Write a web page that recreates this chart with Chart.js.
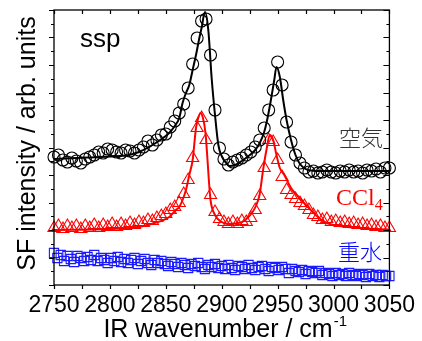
<!DOCTYPE html>
<html><head><meta charset="utf-8">
<script src="https://cdn.jsdelivr.net/npm/chart.js@4/dist/chart.umd.min.js"></script>
<style>html,body{margin:0;padding:0;background:#fff}#wrap{width:422px;height:341px;position:relative}</style>
</head><body>
<div id="wrap"><canvas id="c"></canvas></div>
<script>
// ---- data (arb. units on y) ----
const wnA = [2750,2754,2758,2762,2766,2770,2774,2778,2782,2786,2790,2794,2798,2802,2806,2810,2814,2818,2822,2826,2830,2834,2838,2842,2846,2850,2854,2858,2862,2866,2870,2874,2878,2882,2886,2890,2894,2898,2902,2906,2910,2914,2918,2922,2926,2930,2934,2938,2942,2946,2950,2954,2958,2962,2966,2970,2974,2978,2982,2986,2990,2994,2998,3002,3006,3010,3014,3018,3022,3026,3030,3034,3038,3042,3046,3050];
const airSF = [128,130,125,123,127,124,122,126,128,130,133,132,136,135,133,132,135,134,132,135,138,144,140,145,150,151,158,164,172,181,197,221,247,264,266,230,175,137,126,120,123,125,127,130,133,138,145,157,175,195,223,200,163,143,130,122,117,113,114,112,113,115,113,112,114,113,115,113,114,112,115,114,116,113,117,117];
const ccl4SF = [57,59,56,59,57,59,56,59,57,60,57,60,58,61,58,61,59,62,60,63,62,65,64,67,69,71,75,78,82,91,105,127,157,167,145,90,73,66,63,61,63,61,64,63,67,75,89,117,145,143,125,108,95,90,86,82,79,75,70,68,65,66,63,64,62,63,61,62,60,61,59,60,58,59,57,57];
const wnB = [2750,2753,2756,2759,2762,2765,2768,2771,2774,2777,2780,2783,2786,2789,2792,2795,2798,2801,2804,2807,2810,2813,2816,2819,2822,2825,2828,2831,2834,2837,2840,2843,2846,2849,2852,2855,2858,2861,2864,2867,2870,2873,2876,2879,2882,2885,2888,2891,2894,2897,2900,2903,2906,2909,2912,2915,2918,2921,2924,2927,2930,2933,2936,2939,2942,2945,2948,2951,2954,2957,2960,2963,2966,2969,2972,2975,2978,2981,2984,2987,2990,2993,2996,2999,3002,3005,3008,3011,3014,3017,3020,3023,3026,3029,3032,3035,3038,3041,3044,3047,3050];
const d2oSF = [32,27,30,24,29,26,23,29,27,24,28,25,30,24,27,25,22,27,24,28,23,26,22,25,27,21,24,26,22,20,25,22,24,21,19,23,21,18,22,20,17,21,19,22,18,16,20,18,21,17,19,16,20,17,15,19,18,16,20,17,15,18,19,16,14,18,17,15,18,16,12,16,14,13,15,11,14,13,12,14,10,12,11,9,12,10,11,9,12,10,9,11,10,8,11,9,10,8,10,9,9];
const airFitWn = [2750,2780,2800,2817,2826,2835,2845,2853,2858,2862,2865,2868,2871,2874,2877,2880,2882,2885,2888,2891,2894,2897,2900,2904,2907,2912,2918,2924,2930,2934,2938,2941,2944,2947,2949,2952,2955,2958,2962,2966,2970,2975,2980,2990,3050];
const airFit = [126,127.5,128.5,130,133,138,145,152,159,167,182,192,200,215,230,247,257,273,255,207,170,140,129,122,119,120,124,129,135,142,153,167,185,205,218,208,185,165,145,130,121,116,114.5,114,114];
const ccl4FitWn = [2750,2800,2826,2840,2853,2859,2862,2865,2868,2871,2874,2877,2879,2881,2883,2885.5,2887,2888.5,2890,2894,2900,2906,2912,2920,2927,2931,2934,2937,2940,2943,2946,2949,2952,2956,2962,2968,2977,2985,2992,3000,3013,3030,3050];
const ccl4Fit = [55,56,58,62,68,75,78,85,95,110,125,157,167,172,168,152,130,105,85,70,63,61,61.5,64,72,80,91,115,135,150,145,130,117,110,97,89,78,69,63,60,58,56.5,55.5];
const xLabels = [2750,2800,2850,2900,2950,3000,3050];
const xMinorTicks = [2750,2775,2800,2825,2850,2875,2900,2925,2950,2975,3000,3025,3050];
const xTitle = 'IR wavenumber / cm';
const xTitleSup = '-1';
const yTitle = 'SF intensity / arb. units';
const polLabel = 'ssp';
const seriesNames = ['空気', 'CCl', '重水'];

const pts = (xs, ys) => xs.map((x, i) => ({x, y: ys[i]}));

const decor = {
  id: 'decor',
  afterDatasetsDraw(chart) {
    const ctx = chart.ctx, a = chart.chartArea;
    const xs = chart.scales.x, ys = chart.scales.y;
    ctx.save();
    ctx.strokeStyle = '#000';
    ctx.lineWidth = 1.3;
    ctx.strokeRect(a.left, a.top, a.right - a.left, a.bottom - a.top);
    ctx.lineWidth = 1.2;
    ctx.beginPath();
    xMinorTicks.forEach(v => {
      const px = Math.round(xs.getPixelForValue(v)) + 0.5;
      ctx.moveTo(px, a.bottom); ctx.lineTo(px, a.bottom + 4);
      ctx.moveTo(px, a.top); ctx.lineTo(px, a.top + 4);
    });
    const step = (ys.max - ys.min) / 20;
    for (let i = 0; i <= 20; i++) {
      const py = Math.round(ys.getPixelForValue(ys.min + i * step)) + 0.5;
      const major = i % 2 === 0;
      ctx.moveTo(a.left, py); ctx.lineTo(a.left - (major ? 5 : 3), py);
      ctx.moveTo(a.right, py); ctx.lineTo(a.right - (major ? 6 : 3), py);
    }
    ctx.stroke();
    ctx.restore();
  },
  afterDraw(chart) {
    const ctx = chart.ctx, a = chart.chartArea;
    ctx.save();
    ctx.fillStyle = '#000';
    ctx.textBaseline = 'alphabetic';
    // x title
    ctx.font = '25px "Liberation Sans", Arial, sans-serif';
    const w1 = ctx.measureText(xTitle).width;
    ctx.font = '15px "Liberation Sans", Arial, sans-serif';
    const w2 = ctx.measureText(xTitleSup).width;
    const cx = (a.left + a.right) / 2 + 3;
    const x0 = cx - (w1 + w2) / 2;
    ctx.font = '25px "Liberation Sans", Arial, sans-serif';
    ctx.textAlign = 'left';
    ctx.fillText(xTitle, x0, 337);
    ctx.font = '15px "Liberation Sans", Arial, sans-serif';
    ctx.fillText(xTitleSup, x0 + w1 + 1, 326);
    // y title
    ctx.save();
    ctx.translate(35, (a.top + a.bottom) / 2 - 4);
    ctx.rotate(-Math.PI / 2);
    ctx.textAlign = 'center';
    ctx.font = '25px "Liberation Sans", Arial, sans-serif';
    ctx.fillText(yTitle, 0, 0);
    ctx.restore();
    // ssp
    ctx.textAlign = 'left';
    ctx.font = '26px "Liberation Sans", Arial, sans-serif';
    ctx.fillText(polLabel, 80, 47);
    // series labels
    ctx.textAlign = 'center';
    ctx.font = '300 22px "Noto Sans CJK JP", sans-serif';
    ctx.fillStyle = '#333';
    ctx.fillText(seriesNames[0], 361, 146);
    ctx.fillStyle = '#0000ff';
    ctx.fillText(seriesNames[2], 360, 260);
    ctx.fillStyle = '#ff0000';
    ctx.textAlign = 'left';
    ctx.font = '24px "Liberation Serif", "Times New Roman", serif';
    ctx.fillText(seriesNames[1], 336, 205);
    const wc = ctx.measureText(seriesNames[1]).width;
    ctx.font = '16px "Liberation Serif", "Times New Roman", serif';
    ctx.fillText('4', 336 + wc, 210);
    ctx.restore();
  }
};

new Chart(document.getElementById('c'), {
  type: 'scatter',
  data: {
    datasets: [
      { label: 'air fit', data: pts(airFitWn, airFit), showLine: true, borderColor: '#000', borderWidth: 2, pointRadius: 0, cubicInterpolationMode: 'monotone', order: 1, clip: false },
      { label: 'air', data: pts(wnA, airSF), showLine: false, borderColor: '#000', backgroundColor: 'rgba(0,0,0,0)', pointBackgroundColor: 'rgba(0,0,0,0)', pointBorderColor: '#000', pointBorderWidth: 1.1, pointRadius: 6, pointStyle: 'circle', order: 2, clip: false },
      { label: 'CCl4 fit', data: pts(ccl4FitWn, ccl4Fit), showLine: true, borderColor: '#ff0000', borderWidth: 2, pointRadius: 0, cubicInterpolationMode: 'monotone', order: 3, clip: false },
      { label: 'CCl4', data: pts(wnA, ccl4SF), showLine: false, borderColor: '#ff0000', pointBackgroundColor: 'rgba(0,0,0,0)', pointBorderColor: '#ff0000', pointBorderWidth: 1.1, pointRadius: 7, pointStyle: 'triangle', order: 4, clip: false },
      { label: 'D2O', data: pts(wnB, d2oSF), showLine: false, borderColor: '#0000ff', pointBackgroundColor: 'rgba(0,0,0,0)', pointBorderColor: '#1a1aff', pointBorderWidth: 1.1, pointRadius: 6.5, pointStyle: 'rect', order: 5, clip: false }
    ]
  },
  options: {
    responsive: true,
    maintainAspectRatio: false,
    animation: false,
    devicePixelRatio: 1,
    layout: { padding: { top: 10, right: 30, left: 0, bottom: 0 } },
    plugins: { legend: { display: false }, tooltip: { enabled: false } },
    scales: {
      x: {
        type: 'linear', min: 2750, max: 3050,
        afterFit(s) { s.height = 56; },
        afterBuildTicks(s) { s.ticks = xLabels.map(v => ({ value: v })); },
        grid: { display: false, drawTicks: false },
        border: { display: false },
        ticks: { autoSkip: false, maxRotation: 0, padding: 7, color: '#000', callback: v => String(v), font: { family: '"Liberation Sans", Arial, sans-serif', size: 23 } }
      },
      y: {
        type: 'linear', min: 0, max: 275,
        afterFit(s) { s.width = 54; },
        grid: { display: false, drawTicks: false },
        border: { display: false },
        ticks: { display: false }
      }
    }
  },
  plugins: [decor]
});
</script>
</body></html>
